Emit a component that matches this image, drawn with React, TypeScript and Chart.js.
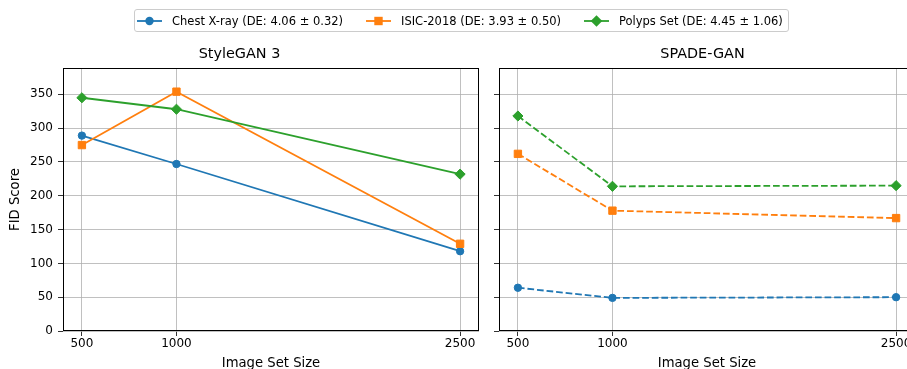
import React, { useEffect, useRef } from "react";
import { Chart, registerables } from "chart.js";
Chart.register(...registerables);

const FONT = "'DejaVu Sans', sans-serif";

const imageSizes = [500, 1000, 2500];
const xTickValues = [500, 1000, 2500];
const yTickValues = [0, 50, 100, 150, 200, 250, 300, 350];
const seriesNames = [
  "Chest X-ray (DE: 4.06 ± 0.32)",
  "ISIC-2018 (DE: 3.93 ± 0.50)",
  "Polyps Set (DE: 4.45 ± 1.06)",
];
const panelTitles = ["StyleGAN 3", "SPADE-GAN"];

const styleganChest = [289, 247, 118];
const styleganIsic = [275, 354, 129];
const styleganPolyps = [345, 328, 232];

const spadeChest = [64, 49, 50];
const spadeIsic = [262, 178, 167];
const spadePolyps = [318, 214, 215];

const seriesColors = ["#1f77b4", "#ff7f0e", "#2ca02c"];
const pointStyles = ["circle", "rect", "rectRot"];
const pointRadii = [3.7, 5.2, 5.1];

const framePlugin = {
  id: "frame",
  afterDraw(chart: any) {
    const { ctx, chartArea: a } = chart;
    ctx.save();
    ctx.strokeStyle = "#000";
    ctx.lineWidth = 1;
    const l = Math.round(a.left) + 0.5;
    const t = Math.round(a.top) + 0.5;
    const r = Math.round(a.right) - 0.5;
    const b = Math.round(a.bottom) - 0.5;
    ctx.strokeRect(l, t, r - l, b - t);
    ctx.restore();
  },
};

function Panel(props: {
  title: string;
  series: number[][];
  dashed: boolean;
  showY: boolean;
  left: number;
  width: number;
}) {
  const ref = useRef<HTMLCanvasElement>(null);
  useEffect(() => {
    const { title, series, dashed, showY, width } = props;
    const yAxisW = showY ? 63 : 9;
    const plotW = 416;
    const datasets = series.map((vals, i) => ({
      label: seriesNames[i],
      data: imageSizes.map((x, j) => ({ x, y: vals[j] })),
      borderColor: seriesColors[i],
      backgroundColor: seriesColors[i],
      borderWidth: 1.8,
      borderDash: dashed ? [6.7, 2.9] : [],
      pointStyle: pointStyles[i],
      pointRadius: pointRadii[i],
      pointBorderWidth: 1,
      pointBackgroundColor: seriesColors[i],
      pointBorderColor: seriesColors[i],
      tension: 0,
      order: 2 - i,
      clip: false as any,
    }));
    const chart = new Chart(ref.current!, {
      type: "line",
      data: { datasets },
      options: {
        animation: false,
        responsive: false,
        events: [],
        layout: {
          padding: { top: 40, left: 0, right: width - yAxisW - plotW, bottom: 0 },
        },
        plugins: {
          legend: { display: false },
          tooltip: { enabled: false },
          title: {
            display: true,
            text: title,
            color: "#000",
            font: { family: FONT, size: 14.4, weight: "normal", lineHeight: "17px" as any },
            padding: { top: 6, bottom: 5 },
          },
        },
        scales: {
          x: {
            type: "linear",
            min: 400,
            max: 2600,
            afterBuildTicks: (s: any) => {
              s.ticks = xTickValues.map((v) => ({ value: v }));
            },
            afterFit: (s: any) => {
              s.height = 38;
            },
            grid: { color: "#b0b0b0", lineWidth: 0.8, tickLength: 5, tickColor: "#000" },
            border: { display: false },
            ticks: {
              padding: 1,
              color: "#000",
              autoSkip: false,
              maxRotation: 0,
              font: { family: FONT, size: 12 },
              callback: (v: any) => String(v),
            },
            title: {
              display: true,
              text: "Image Set Size",
              color: "#000",
              font: { family: FONT, size: 13.2, lineHeight: 1 },
              padding: { top: 0, bottom: -1.5 },
            },
          },
          y: {
            type: "linear",
            min: 0,
            max: 389,
            afterBuildTicks: (s: any) => {
              s.ticks = yTickValues.map((v) => ({ value: v }));
            },
            afterFit: (s: any) => {
              s.width = yAxisW;
            },
            grid: { color: "#b0b0b0", lineWidth: 0.8, tickLength: 5, tickColor: "#000" },
            border: { display: false },
            ticks: {
              display: showY,
              padding: 5,
              color: "#000",
              font: { family: FONT, size: 12 },
              callback: (v: any) => String(v),
            },
            title: {
              display: showY,
              text: "FID Score",
              color: "#000",
              font: { family: FONT, size: 13.2, lineHeight: 1.2 },
              padding: { top: 8, bottom: 0 },
            },
          },
        },
      },
      plugins: [framePlugin],
    });
    return () => chart.destroy();
  }, []);
  return (
    <canvas
      ref={ref}
      width={props.width}
      height={369}
      style={{ position: "absolute", left: props.left, top: 0, width: props.width, height: 369 }}
    />
  );
}

function LegendIcon(props: { i: number }) {
  const c = seriesColors[props.i];
  let marker: any;
  if (props.i === 0) marker = <circle cx={12.5} cy={7} r={4.2} fill={c} />;
  else if (props.i === 1) marker = <rect x={8.3} y={2.8} width={8.4} height={8.4} fill={c} />;
  else marker = <polygon points="12.5,1.2 18.3,7 12.5,12.8 6.7,7" fill={c} />;
  return (
    <svg width={25} height={14} style={{ display: "block" }}>
      <line x1={0} y1={7} x2={25} y2={7} stroke={c} strokeWidth={1.8} />
      {marker}
    </svg>
  );
}

export default function App() {
  return (
    <div
      style={{
        position: "absolute",
        left: 0,
        top: 0,
        width: 907,
        height: 369,
        overflow: "hidden",
        background: "#fff",
        fontFamily: FONT,
      }}
    >
      <Panel
        title={panelTitles[0]}
        series={[styleganChest, styleganIsic, styleganPolyps]}
        dashed={false}
        showY={true}
        left={0}
        width={490}
      />
      <Panel
        title={panelTitles[1]}
        series={[spadeChest, spadeIsic, spadePolyps]}
        dashed={true}
        showY={false}
        left={490}
        width={440}
      />
      <div
        style={{
          position: "absolute",
          left: 134,
          top: 9,
          height: 21,
          border: "1px solid #cccccc",
          borderRadius: 3,
          background: "rgba(255,255,255,0.8)",
          display: "flex",
          alignItems: "center",
          padding: "0 5px 0 2px",
          fontSize: 11.5,
          color: "#000",
          whiteSpace: "nowrap",
        }}
      >
        {seriesNames.map((n, i) => (
          <div
            key={n}
            style={{ display: "flex", alignItems: "center", marginLeft: i === 0 ? 0 : 23 }}
          >
            <LegendIcon i={i} />
            <span style={{ marginLeft: 10 }}>{n}</span>
          </div>
        ))}
      </div>
    </div>
  );
}
